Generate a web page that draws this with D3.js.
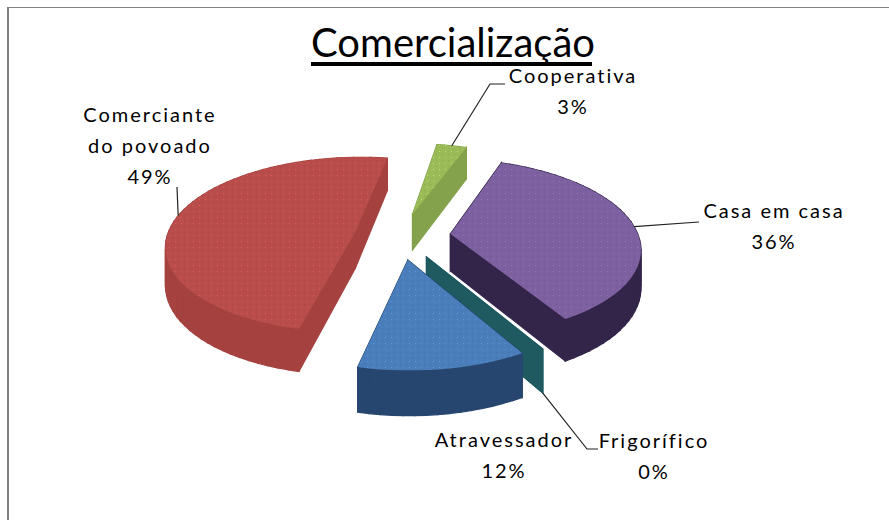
<!DOCTYPE html>
<html>
<head>
<meta charset="utf-8">
<script src="https://cdnjs.cloudflare.com/ajax/libs/d3/7.8.5/d3.min.js"></script>
<style>
	html, body { margin: 0; padding: 0; background: #fff; }
	svg { display: block; }
	text { font-family: Lato, "Open Sans", sans-serif; fill: #000; }
</style>
</head>
<body>
<div id="theChart"></div>
<script>
const categories = ["Comerciante do povoado", "Cooperativa", "Casa em casa", "Frigorífico", "Atravessador"]
const values = [49, 3, 36, 0, 12]
const topColors = ["#b84d4b", "#9bbb59", "#7d60a0", "#1e5a60", "#4a7ebb"]
const wallColors = ["#a5423f", "#83a24b", "#33254a", "#1e5a60", "#27466f"]
const explodes = [0.245, 0.27, 0.27, 0.27, 0.27]

const w = 889
const h = 520

// the pie plane -> screen, near side comes out bigger
const cx = 400, cy = 236, rx = 188, ry = 86.6, persp = 0.145
const depth = 37
const firstAngle = 193 * Math.PI / 180

function project(u, v) {
	const k = 1 + persp * v
	return [cx + rx * u / k, cy - ry * v / k]
}
function drop(u, v) {
	const p = project(u, v)
	return [p[0], p[1] + depth / (1 + persp * v)]
}

const svg = d3.select("#theChart").append("svg").attr("width", w).attr("height", h)

// chart frame, only top and left survive in the picture
svg.append("rect").attr("x", 7).attr("y", 7).attr("width", w - 7).attr("height", 1).attr("fill", "#808080")
svg.append("rect").attr("x", 7).attr("y", 7).attr("width", 2).attr("height", h - 7).attr("fill", "#808080")

const defs = svg.append("defs")
topColors.forEach((c, i) => {
	const pat = defs.append("pattern")
		.attr("id", "dots" + i)
		.attr("width", 6).attr("height", 6)
		.attr("patternUnits", "userSpaceOnUse")
	pat.append("rect").attr("width", 6).attr("height", 6).attr("fill", c)
	pat.append("rect").attr("x", 1).attr("y", 1).attr("width", 1).attr("height", 1)
		.attr("fill", d3.color(c).brighter(0.5))
	pat.append("rect").attr("x", 4).attr("y", 4).attr("width", 1).attr("height", 1)
		.attr("fill", d3.color(c).darker(0.3))
})

const pie = d3.pie().sort(null).value(d => d)
	.startAngle(firstAngle).endAngle(firstAngle + 2 * Math.PI)
const slices = pie(values).map((d, i) => {
	const mid = (d.startAngle + d.endAngle) / 2
	return {
		i: i,
		a0: d.startAngle,
		a1: d.endAngle,
		mid: mid,
		ou: explodes[i] * Math.sin(mid),
		ov: explodes[i] * Math.cos(mid),
	}
})

const line = d3.line()

function rim(s, a) {
	return [s.ou + Math.sin(a), s.ov + Math.cos(a)]
}

function drawSlice(s) {
	const g = svg.append("g")
	const faces = []
	const steps = Math.max(1, Math.ceil((s.a1 - s.a0) / (Math.PI / 60)))
	const angles = d3.range(steps + 1).map(k => s.a0 + (s.a1 - s.a0) * k / steps)

	// radial walls
	;[s.a0, s.a1].forEach(a => {
		const e = rim(s, a)
		faces.push({
			v: (e[1] + s.ov) / 2,
			pts: [project(s.ou, s.ov), project(e[0], e[1]), drop(e[0], e[1]), drop(s.ou, s.ov)],
		})
	})
	// outer wall, small pieces so they sort properly
	if (s.a1 > s.a0) {
		d3.pairs(angles).forEach(p => {
			const a = rim(s, p[0]), b = rim(s, p[1])
			faces.push({
				v: (a[1] + b[1]) / 2,
				pts: [project(a[0], a[1]), project(b[0], b[1]), drop(b[0], b[1]), drop(a[0], a[1])],
			})
		})
	}
	faces.sort((a, b) => b.v - a.v)
	g.selectAll("path.wall").data(faces).enter().append("path")
		.attr("class", "wall")
		.attr("d", d => line(d.pts) + "Z")
		.attr("fill", wallColors[s.i])
		.attr("stroke", wallColors[s.i])
		.attr("stroke-width", 1.2)

	if (s.a1 > s.a0) {
		const top = [project(s.ou, s.ov)].concat(angles.map(a => {
			const r = rim(s, a)
			return project(r[0], r[1])
		}))
		g.append("path")
			.attr("d", line(top) + "Z")
			.attr("fill", "url(#dots" + s.i + ")")
	}
}

slices.slice().sort((a, b) => b.ov - a.ov).forEach(drawSlice)

// leaders start on the slice rims
function rimPoint(i) {
	const s = slices[i]
	const r = rim(s, s.mid)
	return project(r[0], r[1])
}
function rimBottom(i) {
	const s = slices[i]
	const r = rim(s, s.mid)
	return drop(r[0], r[1])
}
const leaders = [
	[rimPoint(0), [177, 187]],
	[rimPoint(1), [490, 84], [505, 84]],
	[rimPoint(2), [699, 222]],
	[rimBottom(3), [587, 449], [598, 449]],
]

// title
svg.append("text")
	.attr("x", 453).attr("y", 57)
	.attr("text-anchor", "middle")
	.attr("font-size", 40)
	.text("Comercialização")
svg.append("rect").attr("x", 311).attr("y", 62).attr("width", 281).attr("height", 4).attr("fill", "#000")

// labels
const labelLines = [["Comerciante", "do povoado", "49%"], ["Cooperativa", "3%"], ["Casa em casa", "36%"], ["Frigorífico", "0%"], ["Atravessador", "12%"]]
const labelPos = [[150, 122], [573, 83], [774, 218], [654, 448], [504, 447]]
labelLines.forEach((lines, i) => {
	lines.forEach((t, k) => {
		svg.append("text")
			.attr("x", labelPos[i][0]).attr("y", labelPos[i][1] + k * 31)
			.attr("text-anchor", "middle")
			.attr("font-size", 20)
			.attr("letter-spacing", 2)
			.text(t)
	})
})

// after the text: the frigorifico leader runs over the end of Atravessador
svg.selectAll("path.leader").data(leaders).enter().append("path")
	.attr("class", "leader")
	.attr("d", d => line(d))
	.attr("fill", "none")
	.attr("stroke", "#222")
	.attr("stroke-width", 1.2)
</script>
</body>
</html>
